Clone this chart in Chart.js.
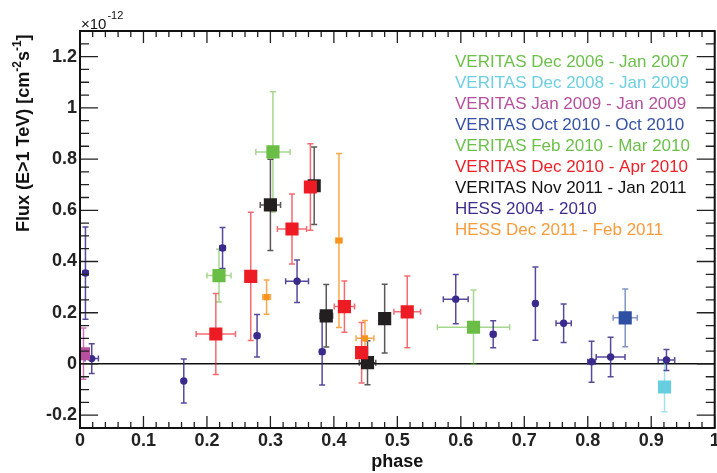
<!DOCTYPE html>
<html>
<head>
<meta charset="utf-8">
<script src="https://cdn.jsdelivr.net/npm/chart.js@4.4.0/dist/chart.umd.min.js"></script>
<style>
  html, body { margin: 0; padding: 0; background: #fff; overflow: hidden; }
  #box { width: 724px; height: 473px; position: relative; }
</style>
</head>
<body>
<div id="box"><canvas id="grafico"></canvas></div>
<script>
// eixos
const xTicks = [0, 0.1, 0.2, 0.3, 0.4, 0.5, 0.6, 0.7, 0.8, 0.9, 1];
const xTickLabels = ["0", "0.1", "0.2", "0.3", "0.4", "0.5", "0.6", "0.7", "0.8", "0.9", "1"];
const yTicks = [-0.2, 0, 0.2, 0.4, 0.6, 0.8, 1, 1.2];
const yTickLabels = ["-0.2", "0", "0.2", "0.4", "0.6", "0.8", "1", "1.2"];

// VERITAS Dec 2006 - Jan 2007
const v0607X = [0.304];
const v0607Y = [0.828];
const v0607Ex = [0.027];
const v0607Ey = [0.235];

// VERITAS Dec 2008 - Jan 2009
const v0809X = [0.921];
const v0809Y = [-0.09];
const v0809Ex = [0];
const v0809Ey = [0.097];

// VERITAS Jan 2009 - Jan 2009
const v09X = [0.0055];
const v09Y = [0.04];
const v09Ex = [0];
const v09Ey = [0.1];

// VERITAS Oct 2010 - Oct 2010
const vOct10X = [0.859];
const vOct10Y = [0.18];
const vOct10Ex = [0.019];
const vOct10Ey = [0.113];

// VERITAS Feb 2010 - Mar 2010
const vFeb10X = [0.219, 0.62];
const vFeb10Y = [0.345, 0.1435];
const vFeb10Ex = [0.019, 0.057];
const vFeb10Ey = [0.103, 0.145];

// VERITAS Dec 2010 - Apr 2010
const vDec10X = [0.214, 0.269, 0.334, 0.363, 0.4166, 0.4437, 0.5156];
const vDec10Y = [0.117, 0.342, 0.527, 0.691, 0.224, 0.044, 0.2035];
const vDec10Ex = [0.031, 0, 0.023, 0, 0.016, 0.006, 0.021];
const vDec10Ey = [0.158, 0.25, 0.137, 0.169, 0.1, 0.118, 0.14];

// VERITAS Nov 2011 - Jan 2011
const vNov11X = [0.300, 0.369, 0.388, 0.453, 0.480];
const vNov11Y = [0.621, 0.696, 0.188, 0.005, 0.177];
const vNov11Ex = [0.016, 0, 0.01, 0.013, 0];
const vNov11Ey = [0.178, 0.151, 0.122, 0.086, 0.134];

// HESS 2004 - 2010
const hessX = [0.0086, 0.0185, 0.1635, 0.2246, 0.279, 0.342, 0.3815, 0.592, 0.651, 0.7175, 0.762, 0.806, 0.836, 0.924];
const hessY = [0.355, 0.021, -0.0665, 0.453, 0.11, 0.323, 0.048, 0.253, 0.116, 0.236, 0.159, 0.009, 0.027, 0.0156];
const hessEx = [0.004, 0.0105, 0, 0.004, 0.004, 0.018, 0.004, 0.0196, 0.004, 0.003, 0.012, 0.006, 0.0227, 0.013];
const hessEy = [0.18, 0.058, 0.086, 0.08, 0.083, 0.083, 0.13, 0.096, 0.053, 0.143, 0.075, 0.08, 0.077, 0.041];

// HESS Dec 2011 - Feb 2011
const hess11X = [0.294, 0.408, 0.449];
const hess11Y = [0.261, 0.482, 0.1];
const hess11Ex = [0.006, 0.005, 0.014];
const hess11Ey = [0.067, 0.34, 0.07];

const FONTE = "'Liberation Sans', Arial, Helvetica, sans-serif";

// ordem da legenda
const series = [
  { nome: "VERITAS Dec 2006 - Jan 2007", cor: "#6abd45", barra: "rgba(106,189,69,0.6)", texto: "#6cc04a", estilo: "rect", raio: 9.3, x: v0607X, y: v0607Y, ex: v0607Ex, ey: v0607Ey },
  { nome: "VERITAS Dec 2008 - Jan 2009", cor: "#67cde0", barra: "rgba(103,205,224,0.6)", texto: "#6dcfe2", estilo: "rect", raio: 9.3, x: v0809X, y: v0809Y, ex: v0809Ex, ey: v0809Ey },
  { nome: "VERITAS Jan 2009 - Jan 2009", cor: "#b8509f", barra: "rgba(200,80,170,0.8)", texto: "#b5509e", estilo: "rect", raio: 9.3, x: v09X, y: v09Y, ex: v09Ex, ey: v09Ey },
  { nome: "VERITAS Oct 2010 - Oct 2010", cor: "#2e4fa2", barra: "rgba(46,79,162,0.6)", texto: "#3652a5", estilo: "rect", raio: 9.3, x: vOct10X, y: vOct10Y, ex: vOct10Ex, ey: vOct10Ey },
  { nome: "VERITAS Feb 2010 - Mar 2010", cor: "#6abd45", barra: "rgba(106,189,69,0.6)", texto: "#6cc04a", estilo: "rect", raio: 9.3, x: vFeb10X, y: vFeb10Y, ex: vFeb10Ex, ey: vFeb10Ey },
  { nome: "VERITAS Dec 2010 - Apr 2010", cor: "#ed1c24", barra: "rgba(237,28,36,0.65)", texto: "#ee1f27", estilo: "rect", raio: 9.3, x: vDec10X, y: vDec10Y, ex: vDec10Ex, ey: vDec10Ey },
  { nome: "VERITAS Nov 2011 - Jan 2011", cor: "#231f20", barra: "rgba(35,31,32,0.75)", texto: "#111111", estilo: "rect", raio: 9.3, x: vNov11X, y: vNov11Y, ex: vNov11Ex, ey: vNov11Ey },
  { nome: "HESS 2004 - 2010", cor: "#3a2a8c", barra: "rgba(58,42,140,0.85)", texto: "#3d2e8e", estilo: "circle", raio: 3.7, x: hessX, y: hessY, ex: hessEx, ey: hessEy },
  { nome: "HESS Dec 2011 - Feb 2011", cor: "#f7941d", barra: "rgba(247,148,29,0.8)", texto: "#f89b3a", estilo: "rect", raio: 4.4, x: hess11X, y: hess11Y, ex: hess11Ex, ey: hess11Ey }
];

// desenha as barras de erro por baixo dos marcadores
const barrasErro = {
  id: "barrasErro",
  beforeDatasetsDraw(chart) {
    const ctx = chart.ctx;
    const sx = chart.scales.x, sy = chart.scales.y;
    const cap = 3;
    ctx.save();
    ctx.lineWidth = 1.5;
    chart.data.datasets.forEach(ds => {
      ctx.strokeStyle = ds.barra;
      ds.data.forEach((p, i) => {
        const px = sx.getPixelForValue(p.x);
        const py = sy.getPixelForValue(p.y);
        const ey = ds.ey[i], ex = ds.ex[i];
        ctx.beginPath();
        if (ey > 0) {
          const t = sy.getPixelForValue(p.y + ey);
          const b = sy.getPixelForValue(p.y - ey);
          ctx.moveTo(px, t); ctx.lineTo(px, b);
          ctx.moveTo(px - cap, t); ctx.lineTo(px + cap, t);
          ctx.moveTo(px - cap, b); ctx.lineTo(px + cap, b);
        }
        if (ex > 0) {
          const l = sx.getPixelForValue(p.x - ex);
          const r = sx.getPixelForValue(p.x + ex);
          ctx.moveTo(l, py); ctx.lineTo(r, py);
          ctx.moveTo(l, py - cap); ctx.lineTo(l, py + cap);
          ctx.moveTo(r, py - cap); ctx.lineTo(r, py + cap);
        }
        ctx.stroke();
      });
    });
    ctx.restore();
  }
};

// moldura, marcas internas, titulos e legenda
const moldura = {
  id: "moldura",
  afterDraw(chart) {
    const ctx = chart.ctx;
    const a = chart.chartArea;
    const sx = chart.scales.x, sy = chart.scales.y;
    ctx.save();

    ctx.strokeStyle = "#222";
    ctx.lineWidth = 1.3;
    ctx.beginPath();
    for (let k = 0; k <= 50; k++) {
      const v = k / 50;
      const px = sx.getPixelForValue(v);
      const len = (k % 5 === 0) ? 12 : 6;
      ctx.moveTo(px, a.bottom); ctx.lineTo(px, a.bottom - len);
      ctx.moveTo(px, a.top); ctx.lineTo(px, a.top + len);
    }
    for (let k = -5; k <= 26; k++) {
      const v = k * 0.05;
      const py = sy.getPixelForValue(v);
      const len = (k % 4 === 0) ? 18 : 9;
      ctx.moveTo(a.left, py); ctx.lineTo(a.left + len, py);
      ctx.moveTo(a.right, py); ctx.lineTo(a.right - len, py);
    }
    ctx.stroke();

    ctx.strokeStyle = "#111";
    ctx.lineWidth = 2;
    ctx.strokeRect(a.left, a.top, a.right - a.left, a.bottom - a.top);

    // legenda
    ctx.font = "17px " + FONTE;
    ctx.textAlign = "left";
    ctx.textBaseline = "middle";
    series.forEach((s, i) => {
      ctx.fillStyle = s.texto;
      ctx.fillText(s.nome, 455, 62 + i * 21);
    });

    // x10^-12
    ctx.fillStyle = "#111";
    ctx.textBaseline = "alphabetic";
    ctx.font = "15px " + FONTE;
    ctx.fillText("\u00d710", 81, 28.5);
    const w10 = ctx.measureText("\u00d710").width;
    ctx.font = "11px " + FONTE;
    ctx.fillText("-12", 81 + w10 + 1, 18.5);

    // titulo x
    ctx.font = "bold 18px " + FONTE;
    ctx.textAlign = "center";
    ctx.fillText("phase", (a.left + a.right) / 2, 467);

    // titulo y com expoentes
    ctx.translate(29, 232);
    ctx.rotate(-Math.PI / 2);
    ctx.textAlign = "left";
    const partes = [
      ["Flux (E>1 TeV) [cm", 0],
      ["-2", 1],
      ["s", 0],
      ["-1", 1],
      ["]", 0]
    ];
    let pos = 0;
    partes.forEach(([t, sup]) => {
      ctx.font = sup ? "bold 12px " + FONTE : "bold 18px " + FONTE;
      ctx.fillText(t, pos, sup ? -8 : 0);
      pos += ctx.measureText(t).width;
    });

    ctx.restore();
  }
};

const datasets = series.map(s => ({
  label: s.nome,
  data: s.x.map((v, i) => ({ x: v, y: s.y[i] })),
  ex: s.ex,
  ey: s.ey,
  barra: s.barra,
  backgroundColor: s.cor,
  borderWidth: 0,
  pointStyle: s.estilo,
  pointRadius: s.raio,
  pointHoverRadius: s.raio
}));

const chart = new Chart(document.getElementById("grafico"), {
  type: "scatter",
  data: { datasets },
  options: {
    responsive: true,
    maintainAspectRatio: false,
    animation: false,
    layout: { padding: { top: 31, right: 4, left: 0, bottom: 0 } },
    plugins: { legend: { display: false }, tooltip: { enabled: false } },
    scales: {
      x: {
        type: "linear",
        min: 0,
        max: 1,
        afterBuildTicks: sc => { sc.ticks = xTicks.map(v => ({ value: v })); },
        afterFit: sc => { sc.height = 45; sc.paddingLeft = 0; sc.paddingRight = 0; },
        ticks: {
          autoSkip: false,
          maxRotation: 0,
          padding: 2,
          color: "#222",
          font: { family: FONTE, size: 18, weight: "bold" },
          callback: (v, i) => xTickLabels[i]
        },
        grid: { display: false, drawTicks: false },
        border: { display: false }
      },
      y: {
        type: "linear",
        min: -0.25,
        max: 1.3,
        afterBuildTicks: sc => { sc.ticks = yTicks.map(v => ({ value: v })); },
        afterFit: sc => { sc.width = 80; sc.paddingTop = 0; sc.paddingBottom = 0; },
        ticks: {
          autoSkip: false,
          padding: 3,
          color: "#222",
          font: { family: FONTE, size: 18, weight: "bold" },
          callback: (v, i) => yTickLabels[i]
        },
        grid: {
          drawTicks: false,
          color: c => (c.tick && c.tick.value === 0) ? "#111" : "rgba(0,0,0,0)",
          lineWidth: 1.5
        },
        border: { display: false }
      }
    }
  },
  plugins: [barrasErro, moldura]
});
</script>
</body>
</html>
